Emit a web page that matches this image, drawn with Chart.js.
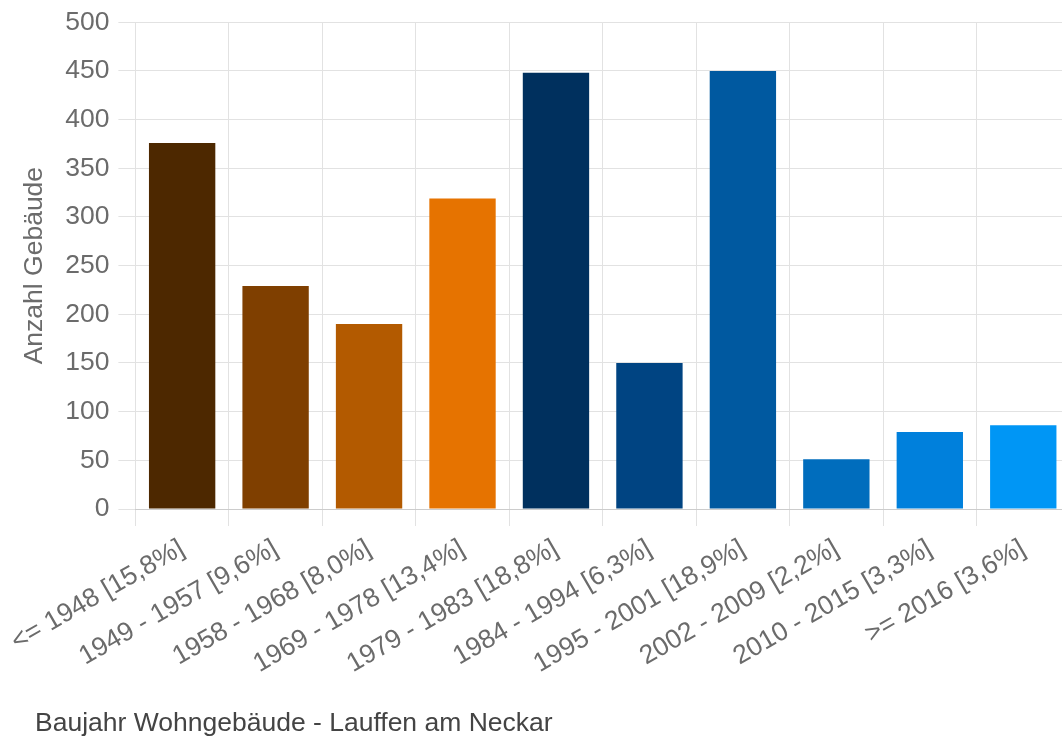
<!DOCTYPE html>
<html>
<head>
<meta charset="utf-8">
<script src="https://cdn.jsdelivr.net/npm/chart.js@4/dist/chart.umd.min.js"></script>
<style>
  html, body { margin: 0; padding: 0; background: #fff; overflow: hidden; }
  #wrap { width: 1071px; height: 738px; }
</style>
</head>
<body>
<div id="wrap"><canvas id="myChart"></canvas></div>
<script>
var baujahre = ['<= 1948 [15,8%]', '1949 - 1957 [9,6%]', '1958 - 1968 [8,0%]', '1969 - 1978 [13,4%]', '1979 - 1983 [18,8%]',
  '1984 - 1994 [6,3%]', '1995 - 2001 [18,9%]', '2002 - 2009 [2,2%]', '2010 - 2015 [3,3%]', '>= 2016 [3,6%]'];
var anzahl = [376, 229, 190, 319, 448, 150, 450, 51, 79, 86];
var farben = ['#4d2800', '#7f3f00', '#b35a00', '#e67300', '#00305e', '#004482', '#0059a0', '#006dbd', '#0080dc', '#0096f5'];
var yTicks = [0, 50, 100, 150, 200, 250, 300, 350, 400, 450, 500];
var caption = 'Baujahr Wohngebäude - Lauffen am Neckar';

var schrift = '"Liberation Sans", Arial, sans-serif';

// Untertitel unten links
var captionPlugin = {
  id: 'caption',
  afterDraw: (chart) => {
    var ctx = chart.ctx;
    ctx.save();
    ctx.font = '26.5px ' + schrift;
    ctx.fillStyle = '#444';
    ctx.textBaseline = 'alphabetic';
    ctx.fillText(caption, 35, 731);
    ctx.restore();
  }
};

var canva = document.getElementById('myChart').getContext('2d');
var chart = new Chart(canva, {
  type: 'bar',
  data: {
    labels: baujahre,
    datasets: [{
      data: anzahl,
      backgroundColor: farben,
      borderWidth: 0,
      categoryPercentage: 1,
      barPercentage: 0.71,
    }],
  },
  options: {
    responsive: true,
    maintainAspectRatio: false,
    animation: false,
    layout: { padding: { top: 22, right: 1, left: 0, bottom: 0 } },
    scales: {
      x: {
        grid: { color: '#e2e2e2', tickLength: 17, offset: true },
        border: { color: '#cccccc' },
        ticks: {
          autoSkip: false,
          minRotation: 30,
          maxRotation: 30,
          padding: 7,
          color: '#6b6b6b',
          font: { family: schrift, size: 26.5 },
        },
        afterFit: (axis) => { axis.height = 229; },
      },
      y: {
        min: 0,
        max: 500,
        afterBuildTicks: (axis) => { axis.ticks = yTicks.map((v) => ({ value: v })); },
        grid: { color: '#e2e2e2', tickLength: 17 },
        border: { display: false },
        ticks: {
          padding: 9,
          color: '#6b6b6b',
          font: { family: schrift, size: 26.5, lineHeight: 1 },
        },
        title: {
          display: true,
          text: 'Anzahl Gebäude',
          color: '#6b6b6b',
          padding: { top: 17, bottom: 0 },
          font: { family: schrift, size: 26.5 },
        },
        afterFit: (axis) => { axis.width = 134; },
      },
    },
    plugins: {
      legend: { display: false },
      tooltip: { enabled: false },
      title: { display: false },
    },
  },
  plugins: [captionPlugin],
});
</script>
</body>
</html>
